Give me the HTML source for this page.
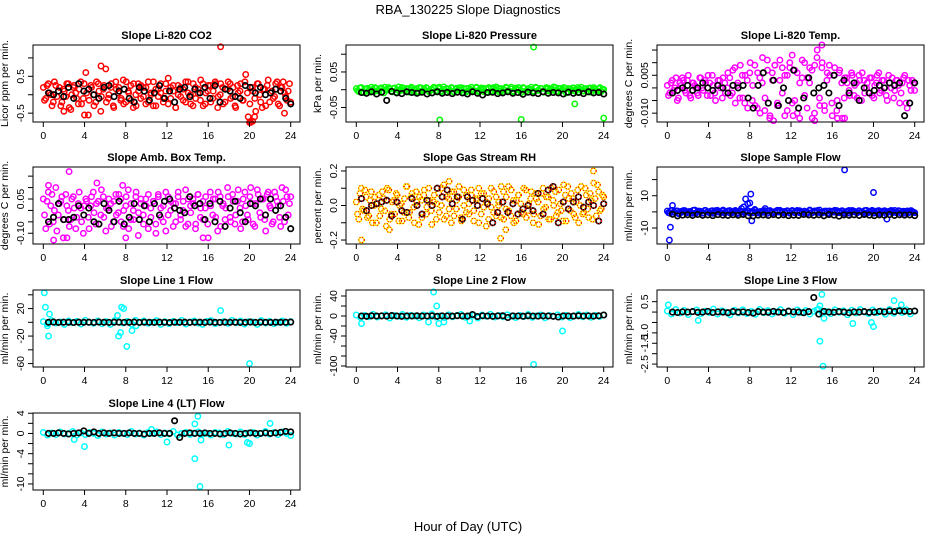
<!DOCTYPE html>
<html><head><meta charset="utf-8"><style>
html,body{margin:0;padding:0;background:#fff;}
svg{display:block;font-family:"Liberation Sans",sans-serif;}
.t{font-weight:bold;font-size:11px;font-family:"Liberation Sans Narrow","Liberation Sans",sans-serif;}
.tk{font-size:10.5px;}
</style></head><body>
<svg id="chart" width="936" height="540" viewBox="0 0 936 540">
<text x="468" y="14" text-anchor="middle" font-size="13">RBA_130225  Slope Diagnostics</text>
<text x="468" y="531" text-anchor="middle" font-size="13">Hour of Day (UTC)</text>
</svg>
<script>
// ---------- data ----------
const xTicks = [0,4,8,12,16,20,24];

const co2Color = [0.2,-0.1,0.3,0,-0.2,0.25,0.1,-0.3,0.15,-0.05,0.3,-0.4,0.2,0.05,-0.25,0.35,-0.1,0.6,-0.55,0.25,0,-0.2,0.3,-0.45,0.15,0.7,-0.1,0.2,-0.3,0.35,0.05,-0.15,0.4,-0.2,0.1,0.25,-0.35,0,0.3,-0.1,0.2,-0.25,0.35,0.05,-0.3,0.15,-0.05,0.3,-0.2,0.1,0.45,-0.1,0.25,-0.35,0,0.2,-0.15,0.35,0.05,-0.25,0.3,-0.1,0.15,0.4,-0.3,0.05,0.25,-0.2,0.1,0.3,-0.05,0.3,-0.25,0.15,0.35,-0.1,0.2,-0.35,0.05,0.3,-0.15,0.55,-0.6,-0.75,0.1,-0.45,0.3,-0.2,0.15,-0.3,0.4,0.05,-0.1,0.3,-0.25,0.2,0.35,-0.05,0.1,-0.2];
const co2ColorB = [-0.15,0.25,0.05,-0.3,0.35,-0.05,0.2,-0.2,0.1,0.3,-0.35,0.0,0.25,-0.1,0.15,-0.25,0.3,0.05,-0.15,0.2,-0.3,0.35,0.1,-0.05,0.25,-0.2,0.0,0.3,-0.35,0.15,0.2,-0.1,-0.25,0.35,0.05,-0.15,0.3,-0.3,0.1,0.25,-0.05,0.2,-0.2,0.0,0.35,-0.3,0.15,0.05,-0.1,0.3,-0.25,0.2,0.1,-0.35,0.25,-0.05,0.15,-0.2,0.35,0.0,-0.3,0.2,0.05,-0.15,0.3,-0.25,0.1,0.25,-0.1,0.35,-0.35,0.0,0.2,-0.2,0.15,0.3,-0.05,-0.3,0.25,0.1,-0.15,0.35,0.05,-0.25,0.2,-0.1,0.3,0.0,-0.35,0.15,0.25,-0.2,0.1,-0.05,0.35,-0.3,0.2,0.05,-0.15,0.3];
const co2Black = [0.05,0,0.1,-0.05,0.2,-0.1,0.3,0.1,0.15,0,-0.1,0.2,0.25,-0.05,0.1,0.15,-0.1,-0.2,0.2,0.1,-0.15,0.05,0.25,-0.1,0.1,-0.2,0.15,0.2,-0.05,0.15,0.05,0.2,-0.1,0.25,-0.2,0.15,0.1,-0.05,-0.1,0.25,0.2,0.05,0.2,0,0.05,0.15,0.1,-0.1,-0.25];
const co2OutHours = [17.2,20,20.3,20.5,4,5.6,2,23.4];
const co2OutValues = [1.3,-0.75,-0.72,-0.6,-0.55,0.78,-0.45,-0.5];

const pressColor = [0.003,-0.005,0.006,-0.008,0.002,-0.003,0.007,-0.006,0.004,-0.002,0.005,-0.009,0.001,0.006,-0.004,0.003,-0.007,0.008,-0.001,0.004,-0.006,0.002,0.007,-0.005,0.003,-0.008,0.005,-0.002,0.006,-0.004,0.001,0.007,-0.006,0.003,-0.003,0.008,-0.007,0.002,0.005,-0.005,0.004,-0.001,0.006,-0.008,0.003,-0.004,0.007,-0.002,0.005,-0.006,0.001,0.004,-0.007,0.006,-0.003,0.002,0.008,-0.005,0.003,-0.006,0.005,-0.002,0.007,-0.004,0.001,0.006,-0.008,0.004,-0.003,0.002,0.007,-0.006,0.005,-0.001,0.003,-0.007,0.006,-0.004,0.002,0.008,-0.005,0.004,-0.002,0.006,-0.009,0.003,-0.003,0.005,0.001,-0.006,0.007,-0.004,0.002,0.004,-0.007,0.006,-0.002,0.003,-0.005,0.001];
const pressColorB = [-0.002,0.005,-0.006,0.002,0.004,-0.007,0.001,0.006,-0.003,0.003,-0.005,0.007,-0.001,0.002,-0.006,0.005,0.0,-0.004,0.006,-0.002,0.003,-0.007,0.004,0.001,-0.005,0.006,-0.003,0.002,0.005,-0.006,0.0,0.004,-0.002,0.007,-0.005,0.001,0.003,-0.004,0.006,-0.007,0.002,0.005,-0.001,0.003,-0.006,0.004,0.0,-0.003,0.007,-0.002,0.005,-0.005,0.002,0.003,-0.007,0.006,-0.001,0.004,-0.004,0.001,0.007,-0.003,0.002,-0.006,0.005,0.0,-0.002,0.006,-0.005,0.003,0.001,-0.004,0.007,-0.002,0.004,-0.006,0.002,0.005,-0.003,0.0,0.006,-0.005,0.003,-0.001,0.004,-0.007,0.002,0.005,-0.004,0.006,0.001,-0.003,0.003,-0.006,0.005,-0.001,0.002,-0.004,0.006,0.0];
const pressBlack = [-0.008,-0.01,-0.006,-0.012,-0.007,-0.03,-0.005,-0.009,-0.011,-0.006,-0.008,-0.01,-0.007,-0.012,-0.009,-0.006,-0.01,-0.008,-0.011,-0.007,-0.009,-0.012,-0.006,-0.01,-0.015,-0.008,-0.007,-0.011,-0.009,-0.006,-0.01,-0.008,-0.013,-0.007,-0.009,-0.011,-0.006,-0.01,-0.008,-0.009,-0.012,-0.007,-0.01,-0.008,-0.011,-0.006,-0.009,-0.008,-0.012];
const pressOutHours = [17.2,8.1,16,21.2,24];
const pressOutValues = [0.12,-0.085,-0.084,-0.04,-0.08];

const tempColor = [0.001,-0.002,0.003,0,-0.005,0.002,0.004,-0.001,0.003,-0.003,0.002,0.001,-0.002,0.004,0,0.003,-0.003,0.002,0.005,-0.002,0.001,0.003,-0.004,0.002,0,0.004,-0.002,0.008,0.001,-0.004,0.005,-0.006,0.003,0.006,-0.005,0.009,-0.008,0.004,0.002,-0.009,0.011,-0.012,0.006,0.009,-0.007,0.003,0.008,-0.011,0.005,0.01,-0.006,0.007,-0.01,0.002,0.011,-0.003,0.004,0.008,-0.012,0.009,0.015,-0.007,0.01,-0.009,0.006,0.005,-0.011,0.008,-0.005,0.007,-0.012,0.004,0.002,-0.003,0.005,0.001,-0.004,0.003,0.006,-0.002,0.002,0.004,-0.003,0.001,0.005,-0.002,0.003,0,-0.005,0.002,0.004,-0.001,0.003,-0.006,0.002,0.005,-0.008,0.001,0.003,-0.001];
const tempColorB = [-0.003,0.002,-0.001,0.004,-0.004,0.001,0.003,-0.002,0.005,-0.004,0.002,0.0,-0.003,0.004,-0.001,0.002,0.005,-0.003,0.001,-0.005,0.003,0.0,0.004,-0.002,0.006,-0.003,0.007,-0.006,0.002,0.009,-0.004,0.005,-0.008,0.01,0.001,-0.007,0.006,-0.01,0.012,-0.004,0.007,-0.011,0.003,0.009,-0.006,0.011,-0.002,0.005,-0.009,0.008,0.013,-0.005,0.006,-0.012,0.004,0.01,-0.008,0.002,0.007,-0.01,0.012,-0.004,0.008,-0.007,0.003,0.009,-0.006,0.005,-0.009,0.006,0.002,-0.004,0.004,-0.001,0.006,-0.003,0.002,0.005,-0.005,0.003,0.0,-0.002,0.004,-0.004,0.002,0.006,-0.001,0.003,-0.003,0.005,0.0,-0.004,0.003,0.001,-0.002,0.004,-0.006,0.003,-0.001,0.002];
const tempBlack = [-0.002,-0.001,0,0.001,-0.001,0,0.002,0,-0.001,0.001,0,-0.002,0.001,0,0.001,-0.004,-0.008,0.001,0.006,-0.006,0.003,-0.007,0,-0.005,0.007,-0.008,-0.004,0.004,-0.002,0,0.001,-0.002,0.005,-0.007,0.003,-0.002,0.002,-0.005,0,-0.002,-0.001,0.001,0,0.002,0.001,0.002,-0.011,-0.006,0.002];
const tempOutHours = [10.3,12.2,14.3,15,16.5,17.2];
const tempOutValues = [-0.013,-0.011,-0.013,0.017,-0.012,-0.012];

const ambColor = [0.05,-0.08,0.08,0.02,-0.05,0.1,-0.02,0.04,-0.12,0.07,0,-0.04,0.06,-0.08,0.03,0.01,-0.1,0.05,-0.03,0.02,0.08,-0.06,0.04,-0.02,0.06,-0.09,0.01,0.03,-0.05,0.07,-0.01,0.05,-0.07,0.02,0.09,-0.04,0,0.06,-0.11,0.03,-0.02,0.05,-0.08,0.01,0.04,-0.06,0.07,-0.03,0.02,-0.09,0.06,0,0.03,-0.05,0.08,-0.02,0.04,-0.07,0.05,-0.01,0.03,-0.06,0.07,0.01,-0.04,0.06,-0.12,0.02,0.05,-0.03,0.08,-0.07,0.03,0.01,0.06,-0.05,0.04,-0.02,0.09,-0.08,0.05,0.02,-0.04,0.1,-0.06,0.03,0.07,-0.03,0.05,-0.09,0.08,0.01,-0.05,0.06,0.02,-0.07,0.04,0.09,-0.02,0.06];
const ambColorB = [-0.02,0.04,-0.06,0.07,0.0,-0.09,0.03,0.06,-0.04,0.02,-0.07,0.05,0.01,-0.03,0.08,-0.05,0.02,0.04,-0.08,0.06,-0.01,0.03,-0.06,0.09,-0.03,0.01,0.05,-0.07,0.04,-0.02,0.07,-0.05,0.0,0.06,-0.08,0.03,-0.04,0.08,-0.01,0.05,-0.06,0.02,0.07,-0.03,0.04,-0.1,0.06,0.01,-0.05,0.08,-0.02,0.04,-0.07,0.03,0.06,-0.04,0.0,0.09,-0.06,0.02,0.05,-0.08,0.07,-0.03,0.04,0.01,-0.06,0.08,-0.02,0.05,-0.09,0.06,0.02,-0.04,0.1,-0.03,0.07,-0.06,0.04,0.01,-0.05,0.08,-0.02,0.06,0.03,-0.07,0.09,-0.01,0.05,-0.04,0.07,0.02,-0.06,0.08,0.04,-0.03,0.1,-0.05,0.06,0.03];
const ambBlack = [-0.05,-0.03,0.03,-0.04,-0.04,-0.03,0.02,-0.02,0.01,-0.05,-0.06,0.03,0,-0.05,0.04,-0.06,-0.03,0.03,-0.04,0.02,-0.05,0.03,-0.02,0.04,0.05,0.01,0,-0.01,0.06,0.02,0.03,-0.04,0.03,-0.05,0.04,-0.07,0.01,0.04,-0.01,-0.05,0.03,0.02,0.05,-0.02,0.05,0,0.02,-0.03,-0.08];
const ambOutHours = [2.5,1,0.5,5.2,7.7,2.3,8,15.5];
const ambOutValues = [0.17,-0.13,0.11,0.12,0.11,-0.12,-0.12,-0.12];

const rhColor = [0.02,-0.08,0.1,-0.03,0.05,-0.06,0.08,0,-0.1,0.06,-0.02,0.04,-0.12,0.09,-0.05,0.03,0.07,-0.09,0.01,-0.04,0.11,-0.07,0.05,-0.01,0.08,-0.11,0.03,0.06,-0.05,0.1,-0.03,0.02,-0.08,0.07,0,0.12,-0.06,0.04,-0.1,0.08,-0.02,0.05,-0.07,0.09,-0.04,0.01,0.06,-0.09,0.03,0.1,-0.05,0.07,-0.12,0.04,-0.01,0.08,-0.06,0.02,0.11,-0.08,0.05,-0.03,0.09,-0.1,0.03,0.06,-0.04,0.1,-0.07,0.01,0.08,-0.05,0.04,-0.11,0.07,-0.02,0.05,-0.08,0.1,0,-0.06,0.09,-0.03,0.12,-0.09,0.04,0.07,-0.05,0.02,-0.1,0.11,-0.04,0.06,-0.07,0.03,0.13,-0.06,0.08,-0.02,0.05];
const rhColorB = [-0.05,0.07,-0.02,0.09,-0.07,0.03,-0.1,0.05,0.01,-0.06,0.08,-0.03,0.1,-0.08,0.02,-0.05,0.06,0.0,-0.09,0.04,0.11,-0.04,0.07,-0.1,0.02,0.05,-0.07,0.09,-0.01,0.03,-0.11,0.06,0.01,-0.04,0.1,-0.08,0.05,-0.02,0.08,-0.06,0.03,0.11,-0.09,0.0,0.06,-0.05,0.09,-0.03,0.04,-0.1,0.07,-0.01,0.02,-0.08,0.1,-0.04,0.05,0.0,-0.07,0.08,-0.02,0.11,-0.06,0.03,-0.09,0.06,0.01,-0.05,0.09,-0.03,0.04,-0.1,0.07,0.02,-0.06,0.1,-0.01,0.05,-0.08,0.03,0.08,-0.04,0.01,-0.09,0.06,0.11,-0.03,0.04,-0.07,0.09,0.0,-0.05,0.1,-0.02,0.07,-0.08,0.04,0.12,-0.03,0.06];
const rhBlack = [0.04,-0.03,0,0.01,0.02,0.03,-0.06,0.02,-0.03,-0.04,0.04,0,-0.05,0.03,0,0.1,0.05,0.09,0.01,0.05,-0.08,0.05,0.03,0,0.04,0.01,-0.1,-0.04,0.02,-0.04,0.01,-0.05,-0.02,0,-0.03,0.07,-0.05,0.09,0.11,-0.1,0.02,-0.02,0.02,0.05,-0.01,0.02,0,-0.09,0.01];
const rhOutHours = [0.5,23,14,14.5,3.2,9];
const rhOutValues = [-0.2,0.2,-0.19,-0.14,-0.14,0.14];

const sampleColor = [0.5,-0.8,1,-0.3,0.6,-1,0.2,0.8,-0.5,0.3,-0.9,1.1,-0.2,0.4,-0.7,0.9,0,-0.6,0.7,-0.4,1,-0.1,0.5,-0.8,0.3,0.8,-0.5,0.1,-1,0.6,0.2,-0.3,0.9,-0.7,0.4,1.5,-0.6,0.2,-0.2,0.8,-0.9,0.5,0,-0.4,1,-0.1,0.3,-0.7,0.6,-0.3,0.9,-0.5,0.1,0.7,-0.8,0.4,-0.2,1.1,-0.6,0.3,0.8,-0.4,0,0.5,-0.9,0.6,-0.1,1,-0.5,0.2,0.7,-0.3,0.4,-0.8,0.9,0.1,-0.6,0.5,-0.2,0.8,-0.7,0.3,1,-0.4,0.6,-0.9,0.2,0.7,-0.1,0.4,-0.6,0.9,-0.3,0.5,0.1,-0.8,0.6,-0.2,0.3,-0.5];
const sampleColorB = [-0.5,0.9,-0.2,0.6,-1,0.3,0.8,-0.6,0.1,-0.4,1,-0.8,0.5,0.2,-0.7,0.9,-0.1,0.4,-0.9,0.7,0,-0.5,1.1,-0.3,0.6,-0.8,0.2,0.9,-0.4,0.5,-1,0.3,0.7,-0.2,-0.6,1,0.1,-0.9,0.6,-0.3,0.4,0.8,-0.7,0.2,-0.1,1,-0.5,0.3,0.7,-0.8,0.5,-0.2,0.9,-0.6,0.1,0.4,-1,0.8,-0.3,0.6,-0.4,1.1,-0.7,0.2,0.5,-0.9,0.3,-0.1,0.8,-0.5,0.6,-0.8,0.1,0.9,-0.2,0.4,-0.6,0.7,0,-0.9,1,-0.3,0.5,-0.7,0.2,0.8,-0.4,0.6,-1,0.3,0.9,-0.1,-0.5,0.7,-0.8,0.4,0.1,-0.6,0.8,-0.2];
const sampleBlack = [-1.5,-2.5,-2,-1.8,-2.2,-1.6,-2.1,-1.9,-2.3,-1.7,-2,-2.2,-1.8,-2.1,-1.6,-2.4,-2.5,-2,-1.9,-2.2,-1.7,-2.1,-1.8,-2.3,-2,-2.2,-1.6,-1.9,-2.1,-1.8,-2.4,-1.7,-2,-2.6,-1.9,-2.1,-1.8,-2.2,-1.6,-2,-2.3,-1.9,-2.1,-1.7,-2.2,-1.8,-2,-1.9,-2.3];
const sampleOutHours = [0.2,0.3,0.5,7.2,7.4,7.6,7.8,8,8.1,8.2,9.5,17.2,20,21.3];
const sampleOutValues = [-17.5,-9.5,4,2,3,8,5,5.5,11,-5.5,2,26,12,-4.5];

const line1Color = [1,-2,2.5,-1,0.5,-3,2,-0.5,1.5,-2.5,3,0,-1.5,2,-2,1,-3,2.5,0.5,-1,1.5,-2.5,3,-0.5,2,-1.5,0,2.5,-3,1,-2,1.5,-0.5,3,-2.5,0.5,2,-1,-3,1.5,2.5,-2,0,1,-1.5,3,-0.5,2,-2.5,1,0.5,-3,2.5,-1,1.5,-2,0,2,-1.5,1];
const line1Black = [0,0.3,-0.2,0.1,0,-0.3,0.2,0,0.1,-0.1,0.3,0,-0.2,0.1,0.2,-0.1,0,0.3,-0.2,0.1,0,-0.1,0.2,0,-0.3,0.1,0,0.2,-0.1,0,0.1,-0.2,0.3,0,-0.1,0.2,0,0.1,-0.2,0,0.3,-0.1,0.1,0,-0.2,0.2,0,0.1,0.3];
const line1OutHours = [0.1,0.2,0.4,0.5,0.6,7.2,7.3,7.5,7.6,7.8,8.1,8.6,9,17.2,20];
const line1OutValues = [43,22,-5,-20,12,10,-20,-15,22,20,-35,-12,-5,17,-60];

const line2Color = [2,-3,1,-1.5,3.5,-2,0.5,2.5,-4,1,-0.5,3,-2.5,1.5,0,-3.5,2,-1,4,-2,0.5,-3,2.5,-1.5,1,3,-2.5,0,1.5,-4,2,-0.5,3.5,-2,1,-1.5,2.5,0,-3,1.5,-1,3,-2.5,0.5,2,-3.5,1,-0.5,2.5,-2,1.5,-3,0,3,-1.5,2,-2.5,1,-1,2];
const line2Black = [0,-0.5,0.5,0,0.3,-0.3,0.8,0,-0.5,0.2,0,0.4,-0.2,0,0.5,-0.5,0.2,0,-0.3,0.6,0,-0.2,3,-1,0.5,0,-0.5,0.2,0.4,-3,0.3,0,-0.4,0.5,0,-0.2,0.3,0,-0.5,-2,0.2,0,-0.3,0.4,0,0.3,-0.2,0.5,2];
const line2OutHours = [0.5,7,7.5,7.8,8,8.5,11,17.2,20];
const line2OutValues = [-15,-12,48,20,-15,-12,-10,-97,-30];

const line3Color = [0.05,-0.1,0.12,-0.05,0.08,-0.12,0.02,0.1,-0.08,0.04,-0.02,0.14,-0.1,0.06,0,-0.13,0.09,-0.04,0.11,-0.07,0.03,-0.11,0.13,-0.03,0.07,-0.09,0.01,0.12,-0.06,0.05,-0.12,0.1,-0.02,0.08,-0.1,0.04,0.14,-0.05,0.02,-0.08,0.11,-0.01,0.06,-0.13,0.09,-0.04,0.12,0,-0.07,0.1,-0.03,0.05,-0.11,0.13,-0.06,0.08,-0.02,0.11,-0.09,0.04];
const line3Black = [0,-0.02,0.01,0,0.02,-0.01,0,0.03,-0.02,0.01,0,-0.03,0.02,0,0.01,-0.02,-0.05,0.02,0,-0.01,0.03,0,-0.02,0.04,0.01,0,-0.03,0.02,0.7,-0.1,0.03,0,-0.01,0.02,0,-0.03,0.01,0,0.02,-0.01,0,0.03,0.01,0.05,0.02,0.06,0.04,0.03,0.05];
const line3OutHours = [0.1,3,14.8,15,14.8,15.1,15.2,22,22.7,18,19.8,20,14.5];
const line3OutValues = [0.35,-0.4,0.3,0.85,-1.4,-2.6,-0.3,0.55,0.35,-0.55,-0.5,-0.7,0.1];

const line4Color = [0.2,-0.3,0.1,-0.2,0.3,-0.1,0,0.4,-0.3,0.1,-0.2,0.2,0,-0.4,0.3,-0.1,0.1,-0.3,0.2,0,-0.2,0.4,-0.1,0.1,-0.3,0.2,0,0.3,-0.2,0.1,-0.1,0.4,-0.3,0,0.2,-0.2,0.1,0.3,-0.1,0,-0.3,0.2,0.1,-0.2,0.4,0,-0.1,0.3,-0.2,0.1,0.2,-0.3,0,0.4,-0.1,0.2,-0.2,0.3,0,-0.4];
const line4Black = [0,0,0.1,0,-0.1,0,0.1,0.5,0,0.3,0,0.1,0,0.1,0,0,0.1,0,0,-0.1,0,0,0.1,0,0,2.5,-0.8,0,0.1,0,0,0.1,0,0,-0.1,0,0.1,0,-0.1,0,0.1,0,0,0.1,0,0.1,0.2,0.4,0.3];
const line4OutHours = [14.7,15,14.7,15.2,4,12,18,19.8,20,22,10.5,3,15.3];
const line4OutValues = [1.9,3.4,-5,-10.5,-2.6,-1.7,-2.3,-1.8,-2,2,0.8,-1.2,-1.3];

// ---------- layout (not data) ----------
const panels = [
 {id:'co2',title:'Slope Li-820 CO2',ylab:'Licor ppm per min.',col:0,row:0,ylim:[-0.74,1.35],ticks:[-0.5,0,0.5,1],labs:['-0.5','0.5'],labAt:[-0.5,0.5],color:'#ff0000',c:co2Color,c2:co2ColorB,b:co2Black,oh:co2OutHours,ov:co2OutValues},
 {id:'pressure',title:'Slope Li-820 Pressure',ylab:'kPa per min.',col:1,row:0,ylim:[-0.091,0.126],ticks:[-0.05,0,0.05,0.1],labs:['-0.05','0.05'],labAt:[-0.05,0.05],color:'#00ff00',c:pressColor,c2:pressColorB,b:pressBlack,oh:pressOutHours,ov:pressOutValues},
 {id:'temp',title:'Slope Li-820 Temp.',ylab:'degrees C per min.',col:2,row:0,ylim:[-0.0135,0.017],ticks:[-0.01,-0.005,0,0.005,0.01,0.015],labs:['-0.010','0.005'],labAt:[-0.01,0.005],color:'#ff00ff',c:tempColor,c2:tempColorB,b:tempBlack,oh:tempOutHours,ov:tempOutValues},
 {id:'amb-box-temp',title:'Slope Amb. Box Temp.',ylab:'degrees C per min.',col:0,row:1,ylim:[-0.147,0.19],ticks:[-0.1,-0.05,0,0.05,0.1,0.15],labs:['-0.10','0.05'],labAt:[-0.1,0.05],color:'#ff00ff',c:ambColor,c2:ambColorB,b:ambBlack,oh:ambOutHours,ov:ambOutValues},
 {id:'gas-rh',title:'Slope Gas Stream RH',ylab:'percent per min.',col:1,row:1,ylim:[-0.223,0.223],ticks:[-0.2,-0.1,0,0.1,0.2],labs:['-0.2','0.0','0.2'],labAt:[-0.2,0,0.2],color:'#ffff00',dot:true,c:rhColor,c2:rhColorB,b:rhBlack,oh:rhOutHours,ov:rhOutValues},
 {id:'sample-flow',title:'Slope Sample Flow',ylab:'ml/min per min.',col:2,row:1,ylim:[-19.9,27.8],ticks:[-10,0,10,20],labs:['-10','10'],labAt:[-10,10],color:'#0000ff',c:sampleColor,c2:sampleColorB,b:sampleBlack,oh:sampleOutHours,ov:sampleOutValues},
 {id:'line1-flow',title:'Slope Line 1 Flow',ylab:'ml/min per min.',col:0,row:2,ylim:[-65,47],ticks:[-60,-40,-20,0,20,40],labs:['-60','-20','20'],labAt:[-60,-20,20],color:'#00ffff',c:line1Color,b:line1Black,oh:line1OutHours,ov:line1OutValues},
 {id:'line2-flow',title:'Slope Line 2 Flow',ylab:'ml/min per min.',col:1,row:2,ylim:[-102,52],ticks:[-100,-80,-60,-40,-20,0,20,40],labs:['-100','-40','0','40'],labAt:[-100,-40,0,40],color:'#00ffff',c:line2Color,b:line2Black,oh:line2OutHours,ov:line2OutValues},
 {id:'line3-flow',title:'Slope Line 3 Flow',ylab:'ml/min per min.',col:2,row:2,ylim:[-2.64,1.06],ticks:[-2.5,-2,-1.5,-1,-0.5,0,0.5],labs:['-2.5','-1.5','-1.0','0.5'],labAt:[-2.5,-1.5,-1,0.5],color:'#00ffff',c:line3Color,b:line3Black,oh:line3OutHours,ov:line3OutValues},
 {id:'line4-flow',title:'Slope Line 4 (LT) Flow',ylab:'ml/min per min.',col:0,row:3,ylim:[-11.2,4.05],ticks:[-10,-8,-6,-4,-2,0,2,4],labs:['-10','-4','0','4'],labAt:[-10,-4,0,4],color:'#00ffff',c:line4Color,b:line4Black,oh:line4OutHours,ov:line4OutValues}
];
const colLeft=[33,346,657], rowTop=[45,167,290,413], boxW=267, boxH=77;
const NS='http://www.w3.org/2000/svg';
const svg=document.getElementById('chart');
function mk(tag,attrs,parent){const e=document.createElementNS(NS,tag);for(const k in attrs)e.setAttribute(k,attrs[k]);(parent||svg).appendChild(e);return e;}

panels.forEach(p=>{
  const L=colLeft[p.col], T=rowTop[p.row], B=T+boxH, R=L+boxW;
  const xs=h=>L+10.3+h*(247.4/24);
  const ys=v=>B-(v-p.ylim[0])/(p.ylim[1]-p.ylim[0])*boxH;
  const g=mk('g',{});
  
  
  const tt=mk('text',{x:(L+R)/2,y:T-6,'text-anchor':'middle',class:'t'},g);tt.textContent=p.title;
  
  
  const pts=mk('g',{fill:'none'},g);
  
  
  const dot=(x,y,col,sw,nm)=>{
    const c=mk('circle',{cx:x.toFixed(1),cy:y.toFixed(1),r:2.7,stroke:col,'stroke-width':sw},pts);
    
    
    if(p.dot){const d=mk('circle',{cx:x.toFixed(1),cy:y.toFixed(1),r:2.7,stroke:'#ff0000','stroke-width':1.2,'stroke-dasharray':'1 1.6'},pts);
      
      }
  };
  const n=p.c.length;
  p.c.forEach((v,i)=>dot(xs(24*i/(n-1)),ys(v),p.color,1.5,p.id+'-point'));
  if(p.c2){const n2=p.c2.length;
    p.c2.forEach((v,i)=>dot(xs(24*(i+0.5)/n2),ys(v),p.color,1.5,p.id+'-point'));}
  p.oh.forEach((h,i)=>dot(xs(h),ys(p.ov[i]),p.color,1.5,p.id+'-outlier'));
  const nb=p.b.length;
  p.b.forEach((v,i)=>dot(xs(0.5+23.5*i/(nb-1)),ys(v),'#000',1.7,p.id+'-reference-point'));
  const bx=mk('rect',{x:L,y:T,width:boxW,height:boxH,fill:'none',stroke:'#000','stroke-width':1},g);
  
  
  const xa=mk('g',{stroke:'#000','stroke-width':1},g);
  
  
  xTicks.forEach(t=>{
    mk('line',{x1:xs(t),x2:xs(t),y1:B,y2:B+5},xa);
    const tx=mk('text',{x:xs(t),y:B+17,'text-anchor':'middle',class:'tk',stroke:'none',fill:'#000'},xa);tx.textContent=t;
    
    
  });
  const ya=mk('g',{stroke:'#000','stroke-width':1},g);
  
  
  p.ticks.forEach(t=>mk('line',{x1:L-5,x2:L,y1:ys(t),y2:ys(t)},ya));
  p.labs.forEach((s,i)=>{
    const y=ys(p.labAt[i]);
    const tx=mk('text',{x:L-9,y:y,'text-anchor':'middle',class:'tk',stroke:'none',fill:'#000',transform:`rotate(-90 ${L-9} ${y})`},ya);tx.textContent=s;
    
    
  });
  const yl=mk('text',{x:L-25,y:(T+B)/2,'text-anchor':'middle','font-size':10.5,transform:`rotate(-90 ${L-25} ${(T+B)/2})`},g);yl.textContent=p.ylab;
  
  
});
</script>
</body></html>
